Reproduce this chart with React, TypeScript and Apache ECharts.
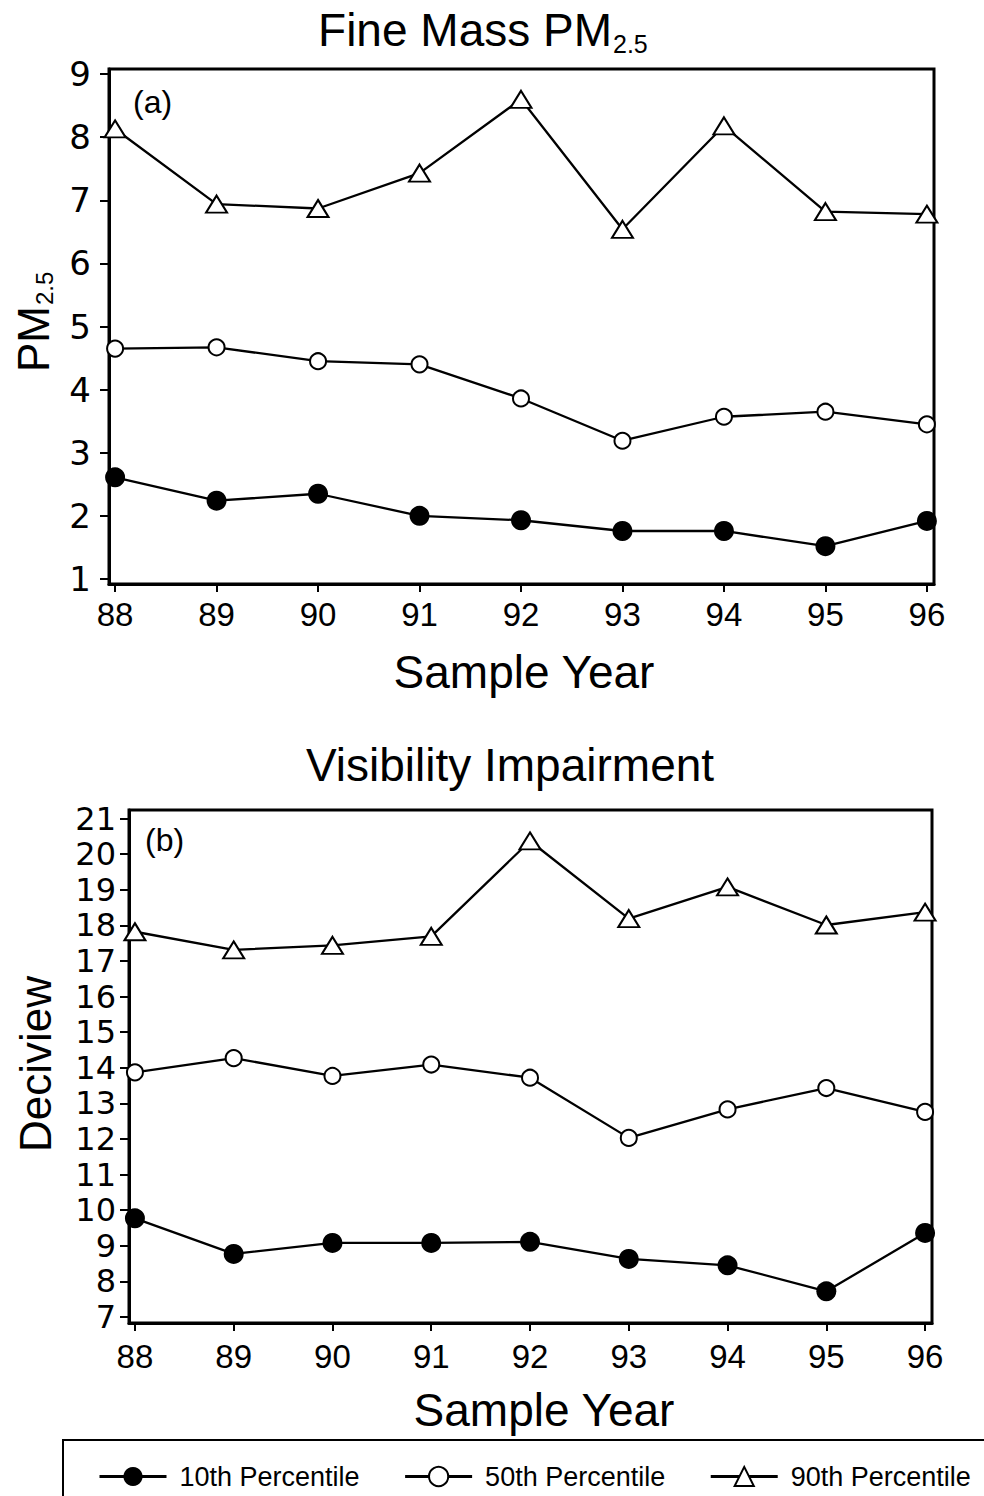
import React, { useEffect, useRef } from 'react';
import * as echarts from 'echarts';

const years = [88, 89, 90, 91, 92, 93, 94, 95, 96];
const yearTicks = [88, 89, 90, 91, 92, 93, 94, 95, 96];
const pmTicks = [1, 2, 3, 4, 5, 6, 7, 8, 9];
const dvTicks = [7, 8, 9, 10, 11, 12, 13, 14, 15, 16, 17, 18, 19, 20, 21];

const seriesNames = ['10th Percentile', '50th Percentile', '90th Percentile'];

// Fine mass PM2.5
const pm10 = [2.61, 2.24, 2.35, 2.0, 1.93, 1.76, 1.76, 1.52, 1.92];
const pm50 = [4.65, 4.67, 4.45, 4.4, 3.86, 3.19, 3.57, 3.65, 3.45];
const pm90 = [8.13, 6.94, 6.87, 7.43, 8.6, 6.54, 8.18, 6.82, 6.78];

// Visibility impairment (deciview)
const dv10 = [9.77, 8.77, 9.08, 9.08, 9.11, 8.63, 8.45, 7.72, 9.36];
const dv50 = [13.87, 14.27, 13.77, 14.09, 13.72, 12.03, 12.83, 13.43, 12.76];
const dv90 = [17.82, 17.31, 17.44, 17.69, 20.37, 18.19, 19.08, 18.01, 18.37];

const FONT = "'Liberation Sans', Arial, Helvetica, sans-serif";
const TICKFONT = "'DejaVu Sans', 'Liberation Sans', sans-serif";

function pairs(vals: number[]) {
  return years.map((y, i) => [y, vals[i]]);
}

const markerStyles = [
  { symbol: 'circle', symbolSize: 20, itemStyle: { color: '#000', borderColor: '#000', borderWidth: 0 } },
  { symbol: 'circle', symbolSize: 16, itemStyle: { color: '#fff', borderColor: '#000', borderWidth: 2 } },
  { symbol: 'triangle', symbolSize: [21, 17], itemStyle: { color: '#fff', borderColor: '#000', borderWidth: 2 } },
];

function makeSeries(idx: number, vals: number[], k: number) {
  const m = markerStyles[k];
  return {
    type: 'line',
    name: seriesNames[k],
    xAxisIndex: idx,
    yAxisIndex: idx,
    data: pairs(vals),
    symbol: m.symbol,
    symbolSize: m.symbolSize,
    showAllSymbol: true,
    itemStyle: m.itemStyle,
    lineStyle: { color: '#000', width: 2.3 },
    emphasis: { disabled: true },
    clip: false,
    z: 3 + k,
  };
}

function xAxisCfg(gridIndex: number, margin: number) {
  return {
    gridIndex,
    type: 'value',
    min: 87.94,
    max: 96.07,
    axisLine: { show: true, onZero: false, lineStyle: { color: '#000', width: 3 } },
    axisTick: { show: true, length: 8, lineStyle: { color: '#000', width: 2 }, customValues: yearTicks },
    axisLabel: { customValues: yearTicks, margin, fontSize: 33, color: '#000', fontFamily: FONT },
    splitLine: { show: false },
  };
}

function yAxisCfg(gridIndex: number, min: number, max: number, ticks: number[], margin: number, size: number) {
  return {
    gridIndex,
    type: 'value',
    min,
    max,
    axisLine: { show: true, onZero: false, lineStyle: { color: '#000', width: 3 } },
    axisTick: { show: true, length: 9, lineStyle: { color: '#000', width: 2 }, customValues: ticks },
    axisLabel: { customValues: ticks, margin, fontSize: size, color: '#000', fontFamily: TICKFONT },
    splitLine: { show: false },
  };
}

function txt(x: number, y: number, text: string, size: number, align = 'center', extra: any = {}) {
  return {
    type: 'text',
    x,
    y,
    silent: true,
    ...extra,
    style: {
      text,
      fontSize: size,
      fontFamily: FONT,
      fill: '#000',
      align,
      textAlign: align,
      verticalAlign: 'middle',
      textVerticalAlign: 'middle',
    },
  };
}

export default function App() {
  const ref = useRef<HTMLDivElement>(null);
  useEffect(() => {
    document.body.style.margin = '0';
    if (!ref.current) return;
    const chart = echarts.init(ref.current, null, { renderer: 'svg' });
    const option: any = {
      animation: false,
      backgroundColor: '#fff',
      textStyle: { fontFamily: FONT, color: '#000' },
      grid: [
        { left: 109, top: 69, width: 825, height: 515, show: true, borderColor: '#000', borderWidth: 3, backgroundColor: 'transparent' },
        { left: 129, top: 810, width: 803, height: 513, show: true, borderColor: '#000', borderWidth: 3, backgroundColor: 'transparent' },
      ],
      xAxis: [xAxisCfg(0, 14), xAxisCfg(1, 17)],
      yAxis: [
        yAxisCfg(0, 0.92, 9.08, pmTicks, 18, 34),
        yAxisCfg(1, 6.83, 21.24, dvTicks, 13, 32),
      ],
      legend: {
        data: seriesNames,
        left: 98,
        top: 1463,
        padding: 0,
        itemWidth: 67,
        itemHeight: 24,
        itemGap: 44,
        selectedMode: false,
        textStyle: { fontSize: 27, color: '#000', fontFamily: FONT, padding: [0, 0, 0, 8] },
        lineStyle: { width: 3 },
      },
      series: [
        makeSeries(0, pm10, 0),
        makeSeries(0, pm50, 1),
        makeSeries(0, pm90, 2),
        makeSeries(1, dv10, 0),
        makeSeries(1, dv50, 1),
        makeSeries(1, dv90, 2),
      ],
      graphic: [
        txt(612, 30, 'Fine Mass PM', 46, 'right'),
        txt(613, 44, '2.5', 25, 'left'),
        txt(510, 765, 'Visibility Impairment', 46),
        txt(524, 672, 'Sample Year', 46),
        txt(544, 1410, 'Sample Year', 46),
        txt(133, 102, '(a)', 32, 'left'),
        txt(145, 840, '(b)', 32, 'left'),
        {
          type: 'group',
          x: 33,
          y: 322,
          rotation: Math.PI / 2,
          children: [
            txt(-50, 0, 'PM', 44, 'left'),
            txt(17, 11, '2.5', 24, 'left'),
          ],
        },
        txt(35, 1064, 'Deciview', 44, 'center', { rotation: Math.PI / 2 }),
        {
          type: 'rect',
          silent: true,
          shape: { x: 63, y: 1440, width: 940, height: 70 },
          style: { fill: 'none', stroke: '#000', lineWidth: 2 },
        },
      ],
    };
    chart.setOption(option);
    return () => chart.dispose();
  }, []);
  return <div ref={ref} style={{ width: 984, height: 1496, position: 'absolute', left: 0, top: 0 }} />;
}
